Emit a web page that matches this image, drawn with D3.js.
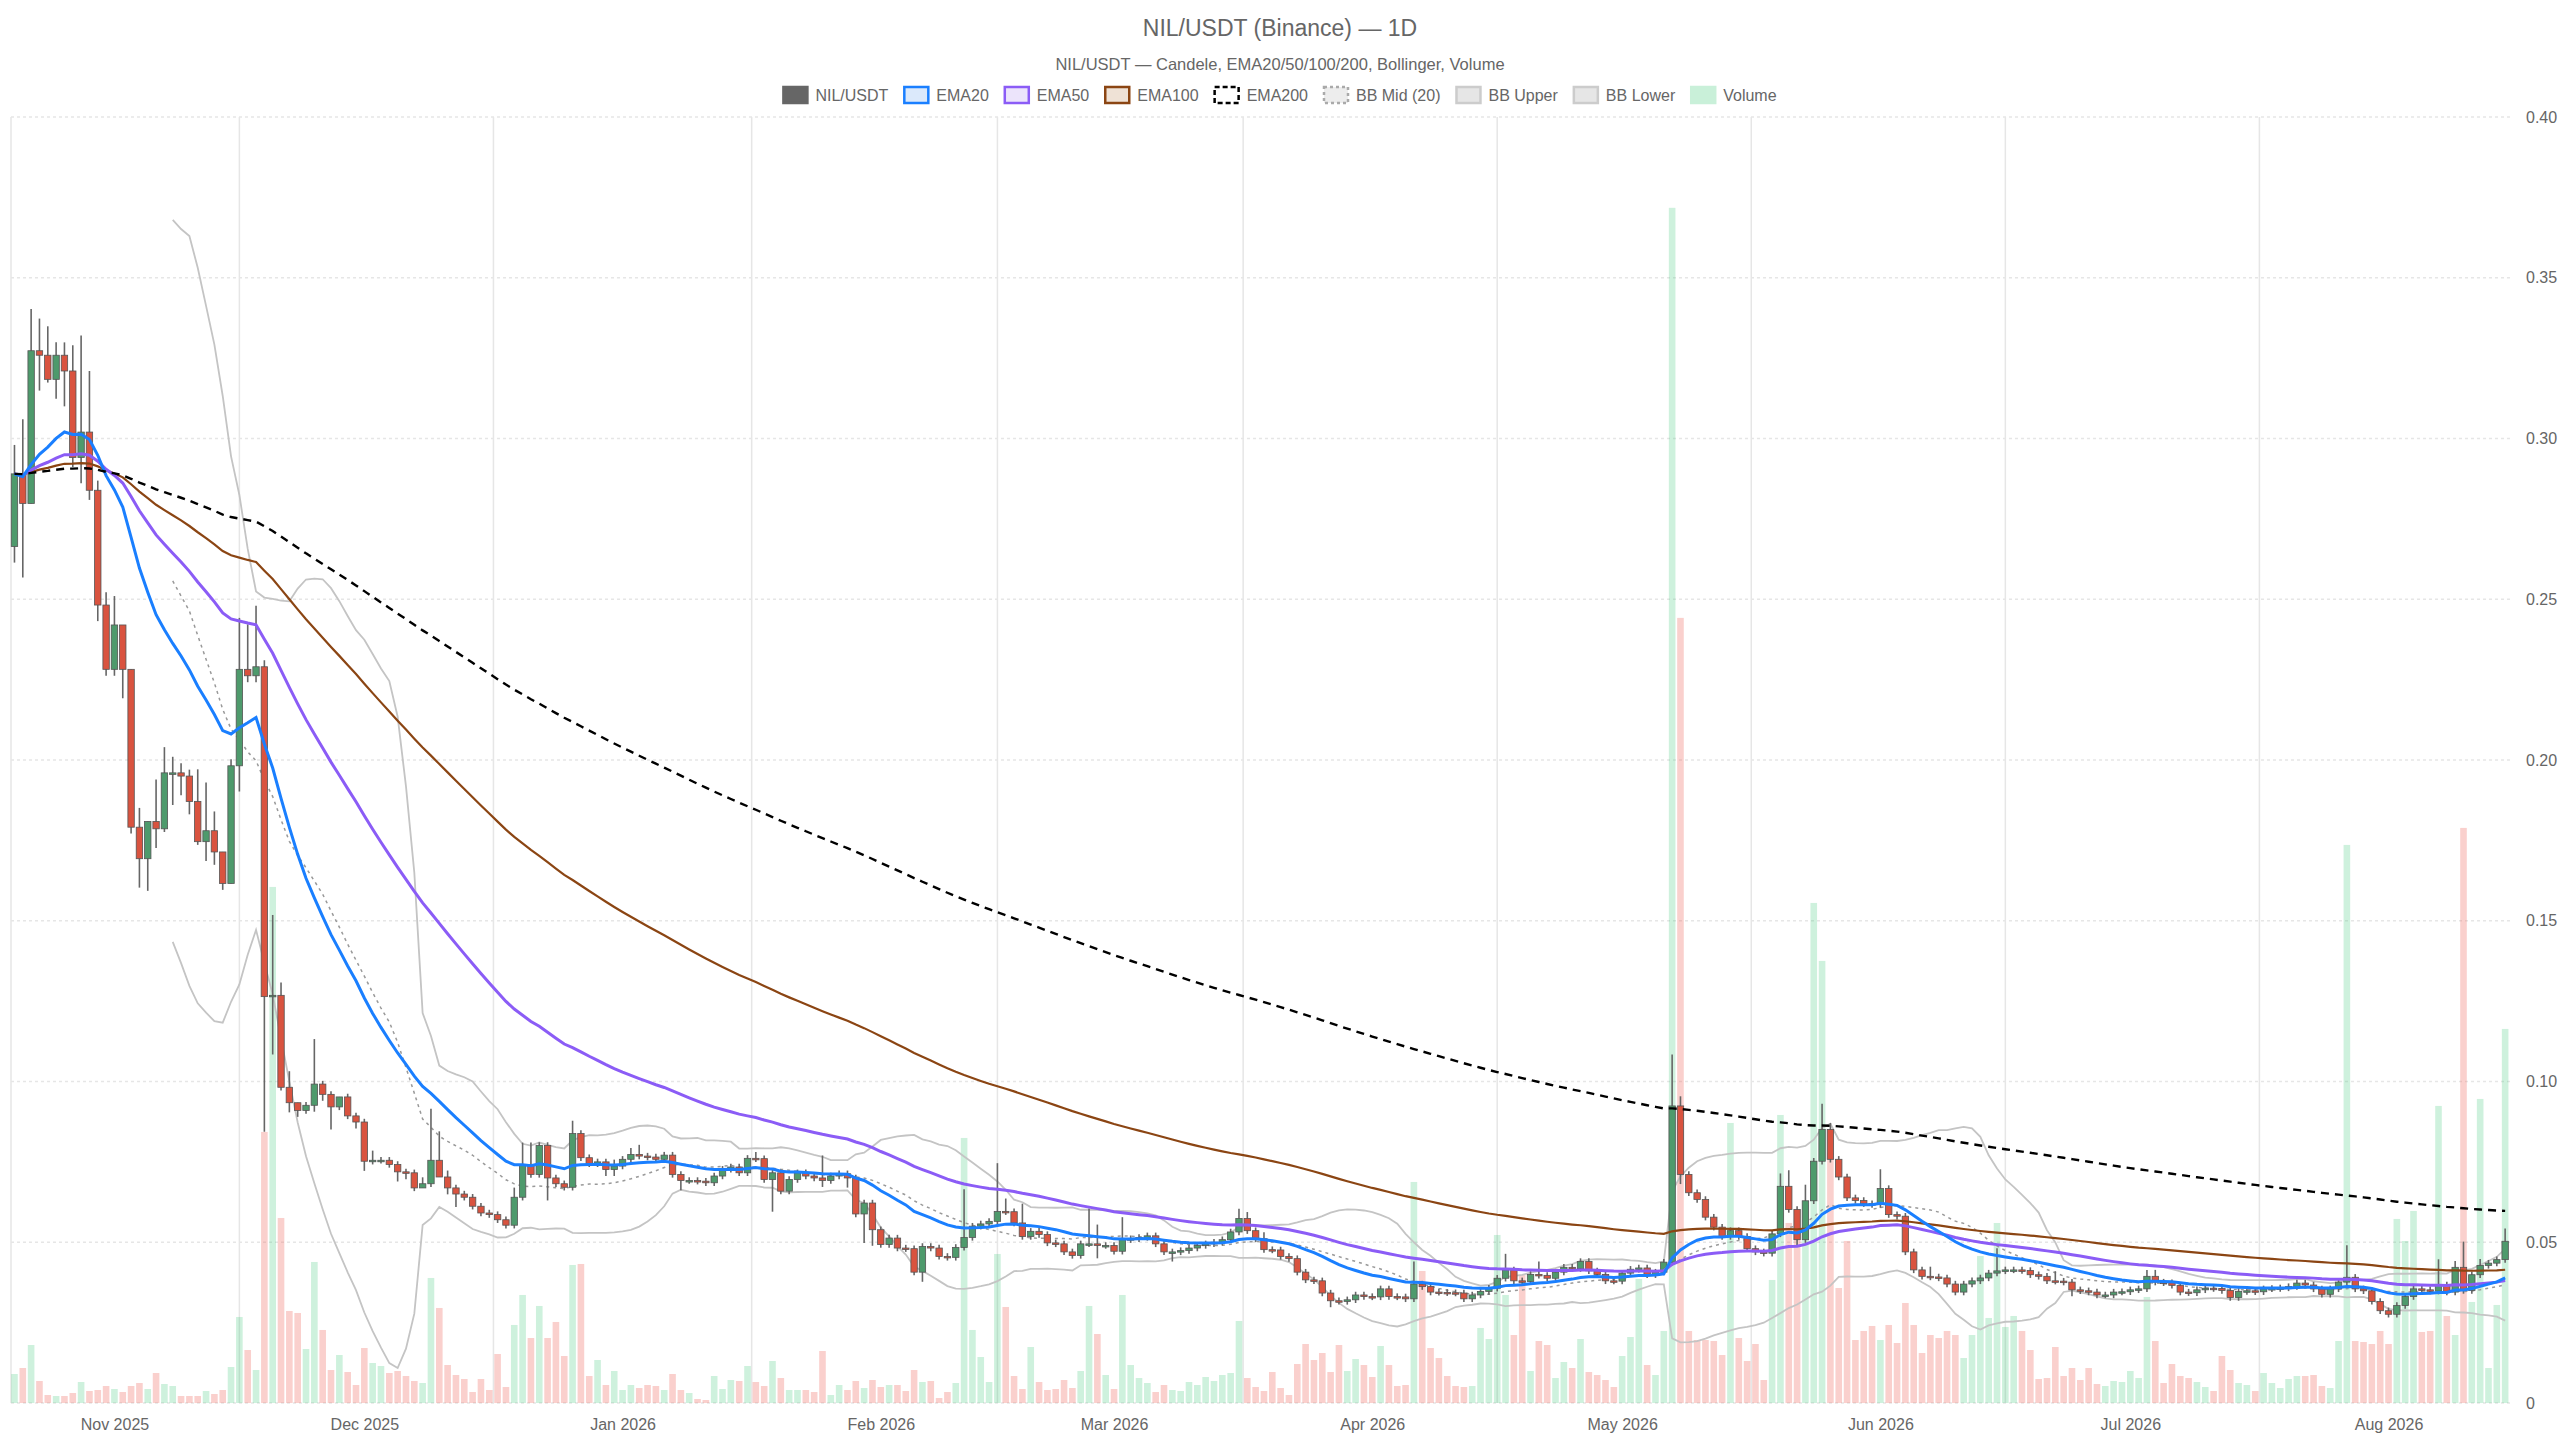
<!DOCTYPE html>
<html>
<head>
<meta charset="utf-8">
<script src="https://cdn.jsdelivr.net/npm/d3@7"></script>
<style>
  body { margin: 0; background: #fff; }
  svg { font-family: "Liberation Sans", Arial, sans-serif; }
</style>
</head>
<body>
<svg id="chart" width="2560" height="1440"></svg>
<script>
// daily closes, starting 2025-10-20
var closes = [
  0.289,0.2798,0.3273,0.3259,0.3184,0.3259,0.321,0.2941,0.302,0.2839,
  0.2482,0.2282,0.242,0.2282,0.1791,0.1693,0.1809,0.1786,0.196,0.196,
  0.195,0.1871,0.1746,0.178,0.1714,0.1616,0.1982,0.2282,0.2262,0.229,
  0.1264,0.1268,0.0982,0.0934,0.091,0.0926,0.0992,0.096,0.0921,0.0952,
  0.0893,0.0874,0.0752,0.0755,0.0755,0.0742,0.0719,0.0716,0.0669,0.0682,
  0.0755,0.0703,0.0669,0.065,0.064,0.0612,0.0591,0.0586,0.057,0.0553,
  0.064,0.074,0.0711,0.0801,0.07,0.0682,0.0671,0.0838,0.0763,0.0744,
  0.075,0.0726,0.0737,0.0758,0.0773,0.0768,0.0765,0.0758,0.0771,0.0711,
  0.0692,0.0692,0.069,0.0685,0.0706,0.0727,0.0734,0.0716,0.0761,0.076,
  0.0695,0.0716,0.0659,0.0695,0.0716,0.0706,0.07,0.0692,0.0706,0.0713,
  0.07,0.0588,0.0622,0.0539,0.0493,0.0513,0.0482,0.048,0.0407,0.0487,
  0.0482,0.0456,0.0453,0.0484,0.0515,0.055,0.0557,0.0565,0.0596,0.0595,
  0.056,0.0518,0.0534,0.0524,0.0498,0.0495,0.047,0.0459,0.0495,0.0495,
  0.049,0.049,0.0472,0.0508,0.0511,0.0515,0.052,0.0495,0.047,0.047,
  0.0474,0.0482,0.049,0.0495,0.05,0.0508,0.0532,0.0574,0.0536,0.0511,
  0.0477,0.0476,0.0456,0.0449,0.0407,0.0383,0.038,0.0342,0.0318,0.0316,
  0.0321,0.0336,0.0331,0.033,0.0355,0.0331,0.033,0.0324,0.037,0.0362,
  0.0345,0.0344,0.0343,0.0342,0.0324,0.0336,0.0347,0.0357,0.0388,0.0414,
  0.038,0.0378,0.04,0.0397,0.0388,0.0407,0.0422,0.0418,0.044,0.0411,
  0.04,0.038,0.0379,0.0404,0.0416,0.042,0.0399,0.0407,0.0438,0.0924,
  0.0711,0.0654,0.0633,0.0578,0.0547,0.0518,0.0536,0.0518,0.048,0.047,
  0.0466,0.0526,0.0674,0.0602,0.0508,0.0629,0.0752,0.0851,0.0758,0.0703,
  0.0638,0.063,0.062,0.0617,0.0667,0.0586,0.0581,0.047,0.0414,0.0394,
  0.0392,0.0389,0.037,0.0345,0.037,0.038,0.0389,0.0404,0.0411,0.0414,
  0.0414,0.0412,0.0399,0.0394,0.038,0.0379,0.0376,0.0352,0.0349,0.0345,
  0.0336,0.0336,0.0345,0.0346,0.0352,0.0355,0.0394,0.0376,0.0374,0.0366,
  0.0345,0.0343,0.0352,0.0357,0.0356,0.035,0.0328,0.0347,0.0349,0.0346,
  0.0355,0.0356,0.0358,0.0362,0.0373,0.0367,0.0355,0.0338,0.0355,0.0376,
  0.0391,0.0355,0.0349,0.0316,0.0287,0.0276,0.0303,0.0331,0.0355,0.0352,
  0.0348,0.0367,0.0345,0.0422,0.035,0.0399,0.0428,0.0435,0.0446,0.0503
];
var firstOpen = 0.2664;

// wick lengths above / below the body, in 0.001 units
var wickUp = [
  9,17,13,10,9,4,4,8,30,19, 3,4,9,0,0,6,0,13,8,5, 3,2,10,15,6,0,2,16,14,19,
  2,25,4,5,0,1,14,1,1,0, 1,1,1,3,1,1,1,1,1,2, 16,9,2,1,1,1,1,1,1,1,
  3,7,7,1,1,1,1,4,1,1, 1,1,2,1,2,3,1,1,1,1, 1,1,1,1,1,1,1,1,1,2,
  1,1,1,1,1,1,1,7,1,1, 1,1,1,1,1,1,1,1,1,1, 1,1,1,1,15,1,1,1,15,4,
  1,6,1,1,1,1,1,1,1,11, 6,1,1,7,1,1,1,1,1,1, 1,1,1,1,1,1,1,3,2,1,
  2,1,1,1,1,1,1,1,1,1, 1,1,1,1,1,1,1,1,7,1, 1,1,1,1,1,1,1,1,1,5,
  1,1,1,4,1,1,1,1,1,1, 1,1,1,1,1,1,1,1,1,16, 3,1,1,1,1,1,1,1,1,1,
  1,1,4,5,1,5,1,8,2,1, 1,1,1,1,6,1,1,1,1,1, 3,1,1,1,1,1,1,1,7,1,
  1,1,1,1,1,3,1,1,1,1, 1,1,1,1,1,1,2,2,1,1, 1,1,1,1,1,1,1,1,1,1,
  1,1,1,1,1,1,1,1,1,1, 10,1,1,1,1,1,1,1,1,1, 1,8,1,2,8,1,2,1,1,4
];
var wickDown = [
  5,23,0,11,1,6,11,3,8,3, 5,2,2,9,2,9,10,6,1,10, 6,4,1,6,4,2,0,8,2,2,
  42,18,1,3,2,1,2,2,7,1, 1,2,3,1,1,1,3,2,1,0, 1,0,2,4,1,1,1,1,1,1,
  1,1,1,1,7,1,1,1,1,1, 1,2,2,1,1,1,1,1,1,1, 3,1,1,1,1,1,1,1,1,1,
  1,10,1,1,1,1,1,2,1,1, 3,1,9,5,1,1,1,1,1,3, 1,1,1,1,1,1,1,1,1,1,
  1,1,1,1,1,1,1,1,1,1, 4,1,1,1,1,1,1,1,1,3, 1,1,1,1,1,1,1,1,1,1,
  1,1,1,1,1,1,1,1,2,1, 1,1,1,1,1,1,1,1,1,1, 1,1,1,1,1,1,1,1,1,1,
  1,1,1,1,1,1,1,1,1,1, 1,1,1,1,1,1,1,1,1,1, 3,1,1,1,1,1,1,1,1,1,
  1,1,1,1,2,1,1,1,1,1, 1,1,1,1,1,1,1,1,1,1, 1,1,1,1,1,1,1,1,1,1,
  1,1,1,1,1,1,1,2,1,1, 1,1,1,1,1,1,1,1,1,1, 1,1,1,1,1,1,1,1,1,1,
  1,1,1,1,1,1,1,1,1,1, 1,1,1,1,1,1,1,1,1,1, 1,1,1,1,1,1,1,1,1,1
];
var volumes = [
  29,35,58,22,8,7,7,10,21,12, 13,17,14,11,17,20,14,30,19,17, 7,7,7,12,9,13,36,86,53,33,
  271,516,185,92,90,54,141,73,33,48, 31,18,55,40,37,30,32,27,22,20, 125,95,38,28,24,11,24,13,49,16,
  78,108,65,97,65,81,47,138,139,27, 43,18,32,13,18,15,18,17,13,29, 13,10,4,3,27,14,23,22,37,21,
  17,42,25,13,13,13,11,52,8,18, 13,22,15,23,16,18,18,12,33,21, 22,5,11,20,265,73,46,21,149,96,
  27,14,56,21,13,14,23,15,32,97, 69,28,14,108,38,25,20,11,18,13, 12,21,18,26,22,28,30,82,25,16,
  12,31,15,8,39,59,43,50,31,58, 32,44,38,26,57,38,17,18,221,132, 55,45,27,17,16,17,75,64,168,108,
  68,128,32,62,58,25,41,35,64,31, 28,23,16,47,66,124,38,28,72,1195, 785,72,63,63,62,48,280,65,42,59,
  23,123,288,180,170,198,500,442,250,115, 162,63,72,77,63,78,60,100,78,50, 68,65,72,68,45,68,147,85,180,76,
  87,72,53,24,25,56,27,35,23,35, 19,17,22,21,32,25,106,62,20,39, 27,25,21,16,12,47,33,20,18,12,
  30,20,15,24,27,27,28,17,15,62, 558,62,61,59,72,59,184,162,192,71, 72,297,87,68,575,101,304,35,98,374
];
var yTicks = [0, 0.05, 0.10, 0.15, 0.20, 0.25, 0.30, 0.35, 0.40];
var startDate = new Date(2025, 9, 20);

var candles = closes.map(function (c, i) {
  var o = i === 0 ? firstOpen : closes[i - 1];
  return {
    date: d3.timeDay.offset(startDate, i),
    open: o, close: c,
    high: Math.max(o, c) + wickUp[i] / 1000,
    low: Math.max(0, Math.min(o, c) - wickDown[i] / 1000),
    vol: volumes[i]
  };
});

// indicators
function ema(values, n) {
  var k = 2 / (n + 1), out = [], prev = values[0];
  values.forEach(function (v, i) { prev = i === 0 ? v : v * k + prev * (1 - k); out.push(prev); });
  return out;
}
var ema20 = ema(closes, 20), ema50 = ema(closes, 50), ema100 = ema(closes, 100), ema200 = ema(closes, 200);
var bbMid = [], bbUp = [], bbLow = [];
closes.forEach(function (c, i) {
  if (i < 19) { bbMid.push(null); bbUp.push(null); bbLow.push(null); return; }
  var w = closes.slice(i - 19, i + 1), m = d3.mean(w);
  var sd = Math.sqrt(d3.mean(w, function (v) { return (v - m) * (v - m); }));
  bbMid.push(m); bbUp.push(m + 2 * sd); bbLow.push(m - 2 * sd);
});

var svg = d3.select("#chart");
var plotLeft = 11, plotRight = 2510, plotTop = 117, plotBottom = 1403;

var x = d3.scaleTime()
  .domain([d3.timeHour.offset(candles[0].date, -10), d3.timeHour.offset(candles[candles.length - 1].date, 14)])
  .range([plotLeft, plotRight]);
var y = d3.scaleLinear().domain([0, 0.4]).range([plotBottom, plotTop]);
var yV = d3.scaleLinear().domain([0, d3.max(volumes) * 1.076]).range([plotBottom, plotTop]);

// title
svg.append("text").attr("x", 1280).attr("y", 36).attr("text-anchor", "middle")
  .attr("font-size", 23).attr("fill", "#666").text("NIL/USDT (Binance) — 1D");
svg.append("text").attr("x", 1280).attr("y", 70).attr("text-anchor", "middle")
  .attr("font-size", 16.5).attr("fill", "#666").text("NIL/USDT — Candele, EMA20/50/100/200, Bollinger, Volume");

// grid
var months = d3.timeMonth.range(new Date(2025, 10, 1), new Date(2026, 7, 2));
var gridX = [plotLeft];
for (var m = 0; m < months.length - 1; m++) gridX.push((x(months[m]) + x(months[m + 1])) / 2);
svg.append("g").selectAll("line").data(gridX).join("line")
  .attr("x1", function (d) { return d; }).attr("x2", function (d) { return d; })
  .attr("y1", plotTop).attr("y2", plotBottom).attr("stroke", "#e6e6e6").attr("stroke-width", 1.5);
svg.append("g").selectAll("line").data(yTicks).join("line")
  .attr("x1", plotLeft).attr("x2", plotRight)
  .attr("y1", function (d) { return y(d); }).attr("y2", function (d) { return y(d); })
  .attr("stroke", "#e6e6e6").attr("stroke-width", 1.5).attr("stroke-dasharray", "3,3");

// axes
var yAxis = d3.axisRight(y).tickValues(yTicks).tickSize(0).tickPadding(16)
  .tickFormat(function (d) { return d === 0 ? "0" : d3.format(".2f")(d); });
svg.append("g").attr("transform", "translate(" + plotRight + ",0)").call(yAxis)
  .call(function (g) { g.select(".domain").remove(); })
  .selectAll("text").attr("font-size", 16).attr("fill", "#666").attr("font-family", "Liberation Sans, Arial");
var xAxis = d3.axisBottom(x).tickValues(months).tickSize(0).tickPadding(16).tickFormat(d3.timeFormat("%b %Y"));
svg.append("g").attr("transform", "translate(0," + plotBottom + ")").call(xAxis)
  .call(function (g) { g.select(".domain").remove(); })
  .selectAll("text").attr("font-size", 16).attr("fill", "#666").attr("font-family", "Liberation Sans, Arial");

// volume
svg.append("g").selectAll("rect").data(candles).join("rect")
  .attr("x", function (d) { return x(d.date) - 3.3; }).attr("width", 6.6)
  .attr("y", function (d) { return yV(d.vol); })
  .attr("height", function (d) { return plotBottom - yV(d.vol); })
  .attr("fill", function (d) { return d.close >= d.open ? "rgba(60,200,120,0.25)" : "rgba(240,110,100,0.32)"; });

// bollinger
function pathOf(arr) {
  return d3.line().defined(function (d) { return d != null; })
    .x(function (d, i) { return x(candles[i].date); }).y(function (d) { return y(d); })(arr);
}
svg.append("path").attr("d", pathOf(bbUp)).attr("fill", "none").attr("stroke", "#c4c4c4").attr("stroke-width", 1.8);
svg.append("path").attr("d", pathOf(bbLow)).attr("fill", "none").attr("stroke", "#c4c4c4").attr("stroke-width", 1.8);
svg.append("path").attr("d", pathOf(bbMid)).attr("fill", "none").attr("stroke", "#999").attr("stroke-width", 1.5).attr("stroke-dasharray", "3,4");

// candles
var cg = svg.append("g");
cg.selectAll("line").data(candles).join("line")
  .attr("x1", function (d) { return x(d.date); }).attr("x2", function (d) { return x(d.date); })
  .attr("y1", function (d) { return y(d.high); }).attr("y2", function (d) { return y(d.low); })
  .attr("stroke", "#666").attr("stroke-width", 1.6);
cg.selectAll("rect").data(candles).join("rect")
  .attr("x", function (d) { return x(d.date) - 3.2; }).attr("width", 6.4)
  .attr("y", function (d) { return y(Math.max(d.open, d.close)); })
  .attr("height", function (d) { return Math.max(1.5, Math.abs(y(d.open) - y(d.close))); })
  .attr("fill", function (d) { return d.close >= d.open ? "#4e9a6c" : "#d9533f"; })
  .attr("stroke", "#555").attr("stroke-width", 0.8);

// EMAs
svg.append("path").attr("d", pathOf(ema100)).attr("fill", "none").attr("stroke", "#8b4513").attr("stroke-width", 2.2);
svg.append("path").attr("d", pathOf(ema50)).attr("fill", "none").attr("stroke", "#8b5cf6").attr("stroke-width", 3);
svg.append("path").attr("d", pathOf(ema20)).attr("fill", "none").attr("stroke", "#1a7fff").attr("stroke-width", 3);
svg.append("path").attr("d", pathOf(ema200)).attr("fill", "none").attr("stroke", "#000").attr("stroke-width", 2.4).attr("stroke-dasharray", "8,6");

// legend
var legendItems = [
  { label: "NIL/USDT", fill: "#666", stroke: "#666", dash: null },
  { label: "EMA20", fill: "#dbe9fb", stroke: "#1a7fff", dash: null },
  { label: "EMA50", fill: "#ece4fb", stroke: "#8b5cf6", dash: null },
  { label: "EMA100", fill: "#efe2d6", stroke: "#8b4513", dash: null },
  { label: "EMA200", fill: "#fff", stroke: "#000", dash: "5,3" },
  { label: "BB Mid (20)", fill: "#ededed", stroke: "#aaa", dash: "3,3" },
  { label: "BB Upper", fill: "#e6e6e6", stroke: "#ccc", dash: null },
  { label: "BB Lower", fill: "#e6e6e6", stroke: "#ccc", dash: null },
  { label: "Volume", fill: "#c9f0d9", stroke: "#c9f0d9", dash: null }
];
var lg = svg.append("g");
var cx = 0;
legendItems.forEach(function (it) {
  var g = lg.append("g").attr("transform", "translate(" + cx + ",0)");
  g.append("rect").attr("x", 0).attr("y", 87).attr("width", 24).attr("height", 16)
    .attr("fill", it.fill).attr("stroke", it.stroke).attr("stroke-width", 2.5)
    .attr("stroke-dasharray", it.dash);
  var t = g.append("text").attr("x", 32).attr("y", 101).attr("font-size", 16).attr("fill", "#666").text(it.label);
  cx += 32 + t.node().getComputedTextLength() + 16;
});
lg.attr("transform", "translate(" + (1280 - (cx - 16) / 2) + ",0)");
</script>
</body>
</html>
